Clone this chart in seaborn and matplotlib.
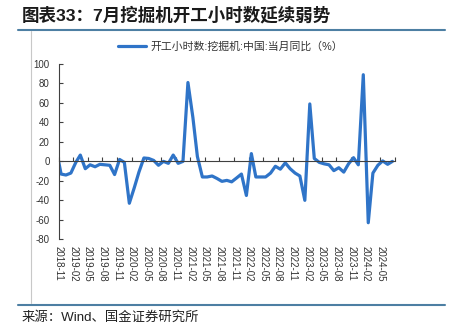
import numpy as np
import pandas as pd
import matplotlib
matplotlib.use('Agg')
import matplotlib.pyplot as plt
import matplotlib.dates as mdates
from matplotlib.lines import Line2D
import seaborn as sns

# ---------------- data ----------------
title = "图表33：7月挖掘机开工小时数延续弱势"
source = "来源：Wind、国金证券研究所"
series_name = "开工小时数:挖掘机:中国:当月同比（%）"

months = pd.date_range("2018-10-01", "2024-07-01", freq="MS")
yoy = [13, -13, -14, -12, -1, 6.5, -7.5, -3.5, -5.5, -3, -3.5, -4, -13.5, 2, -1,
       -43, -27, -11, 3.5, 3, 1, -4, 0, -2, 6.5, -2, 0,
       81, 45, 5, -16, -16, -15, -17.5, -20.5, -19.5, -21, -17, -13, -35, 8,
       -16, -16, -16, -12, -5, -8, -1.5, -7.5, -12, -15, -40, 59, 3, -1, -2.5, -3.5,
       -9.5, -6.5, -11, -2.5, 3.8, -3.5, 89, -63, -12, -4, 0.5, -3, 0]
tick_months = pd.date_range("2018-11-01", "2024-08-01", freq="3MS")
y_ticks = [-80, -60, -40, -20, 0, 20, 40, 60, 80, 100]

# ---------------- style ----------------
sns.set_theme(style="white")
plt.rcParams['font.family'] = ['Liberation Sans', 'Noto Sans CJK SC', 'DejaVu Sans']
plt.rcParams['axes.unicode_minus'] = False

W, H = 459, 331
fig = plt.figure(figsize=(W / 100, H / 100), dpi=100)
ax = fig.add_axes([58.7 / W, 1 - 239.3 / H, (395 - 58.7) / W, (239.3 - 64) / H])

df = pd.DataFrame({"date": months + pd.Timedelta(days=15), "yoy": yoy})
line_color = "#2f74c8"
sns.lineplot(data=df, x="date", y="yoy", ax=ax, color=line_color,
             linewidth=2.3, label=series_name)

ax.set_xlim(tick_months[0], tick_months[-1])
ax.set_ylim(-80, 100)
ax.set_xlabel("")
ax.set_ylabel("")
ax.grid(False)

axis_col = "#404040"
for s in ["top", "right"]:
    ax.spines[s].set_visible(False)
ax.spines["left"].set_color(axis_col)
ax.spines["left"].set_linewidth(0.8)
ax.spines["bottom"].set_position(("data", 0))
ax.spines["bottom"].set_color(axis_col)
ax.spines["bottom"].set_linewidth(0.8)

tick_nums = mdates.date2num(tick_months.to_pydatetime())
ax.set_xticks(tick_nums)
ax.tick_params(axis="x", direction="in", length=3, width=0.8, color=axis_col,
               labelbottom=False, bottom=True)

ax.set_yticks(y_ticks)
ax.set_yticklabels([str(v) for v in y_ticks])
ax.tick_params(axis="y", direction="in", length=3, width=0.8, color=axis_col,
               pad=6.5, labelsize=7, labelcolor="#333333", left=True)

sec = ax.secondary_xaxis("bottom")
sec.set_xticks(tick_nums)
labels = [d.strftime("%Y-%m") for d in tick_months]
labels[-1] = ""
sec.set_xticklabels(labels, rotation=270, fontsize=7, color="#333333")
sec.tick_params(length=0, pad=5)
sec.spines["bottom"].set_visible(False)

leg = ax.legend(loc="center", bbox_to_anchor=(0.511, 1 + 17.3 / 175.3),
                frameon=False, fontsize=7.8, handlelength=2.6,
                handletextpad=0.4, borderaxespad=0)
for t in leg.get_texts():
    t.set_color("#333333")

# ---------------- decorations ----------------
fig.text(22 / W, 1 - 15 / H, title, fontsize=12.6, fontweight="bold",
         color="#1a1a1a", ha="left", va="center")
rule_col = "#4d7fa3"
fig.add_artist(Line2D([18 / W, 445 / W], [1 - 29.5 / H] * 2, color=rule_col,
                      lw=1.5, transform=fig.transFigure))
fig.add_artist(Line2D([18 / W, 445 / W], [1 - 305 / H] * 2, color=rule_col,
                      lw=1.5, transform=fig.transFigure))
fig.add_artist(Line2D([30.5 / W, 30.5 / W], [1 - 31 / H, 1 - 303 / H],
                      color="#c8c8c8", lw=0.8, transform=fig.transFigure))
fig.text(22 / W, 1 - 317 / H, source, fontsize=9.6, color="#222222",
         ha="left", va="center")

fig.savefig("out.png", dpi=100)
